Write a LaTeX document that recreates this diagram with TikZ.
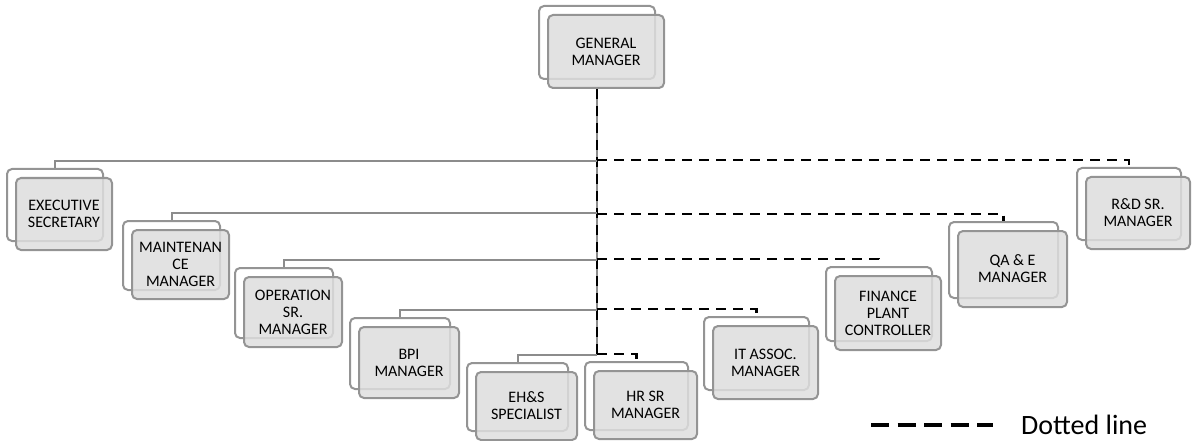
\documentclass[tikz,border=0pt]{standalone}
\usepackage{fontspec}
\setmainfont{Carlito}
\usetikzlibrary{shadows}

\begin{document}
\begin{tikzpicture}[x=1pt,y=-1pt,
    box/.style={draw=black!42,line width=2pt,rounded corners=5pt,fill=black!13,
      fill opacity=0.85,text opacity=1,align=center,inner sep=0pt,
      font=\fontsize{16}{17}\selectfont,
      general shadow={shadow xshift=-9pt,shadow yshift=9pt,fill=white,
        draw=black!42,line width=2pt,fill opacity=1}},
    solidline/.style={draw=black!45,line width=2pt},
    dashline/.style={draw=black,line width=2.2pt,dash pattern=on 10pt off 7pt},
    legendline/.style={draw=black,line width=4pt,dash pattern=on 18pt off 8.5pt}]
  \useasboundingbox (0,0) rectangle (1197,441);
  \foreach \n/\x/\y/\w/\h/\t in {%
    gm/606/51.5/116/73/{GENERAL\\MANAGER},
    exec/64/214/96/72/{EXECUTIVE\\SECRETARY},
    maint/180.5/264.5/97/69/{MAINTENAN\\CE\\MANAGER},
    oper/293/312/98/70/{OPERATION\\SR.\\MANAGER},
    bpi/409/362.5/100/71/{BPI\\MANAGER},
    ehs/526.5/406/101/68/{EH\&S\\SPECIALIST},
    hr/645.5/405/103/68/{HR SR\\MANAGER},
    it/765.5/362.5/105/73/{IT ASSOC.\\MANAGER},
    fin/888/313/106/74/{FINANCE\\PLANT\\CONTROLLER},
    qa/1012.5/269/109/76/{QA \& E\\MANAGER},
    rd/1138/213/104/72/{R\&D SR.\\MANAGER}} {
      \node[box,minimum width=\w pt,minimum height=\h pt] (\n) at (\x,\y) {\t};
      \coordinate (\n-t) at ([shift={(-9pt,9pt)}]\n.north);
      \coordinate (\n-l) at ([yshift=7pt]\n-t);
  }
  \coordinate (top) at ([xshift=-9pt]gm.south);
  \draw[solidline] (top) -- (top |- ehs-l);
  \draw[dashline] (top) -- (top |- hr-l);
  \foreach \n in {exec,maint,oper,bpi,ehs} {
    \draw[solidline] (top |- \n-l) -| (\n-t);
  }
  \foreach \n in {rd,qa,fin,it,hr} {
    \draw[dashline] (top |- \n-l) -| (\n-t);
  }
  \coordinate (lg-a) at (871,425);
  \coordinate (lg-b) at (993,425);
  \draw[legendline] (lg-a) -- (lg-b);
  \node[anchor=west,inner sep=0pt,font=\fontsize{28}{30}\selectfont] (lg) at (1021,425) {Dotted line};
\end{tikzpicture}
\end{document}
